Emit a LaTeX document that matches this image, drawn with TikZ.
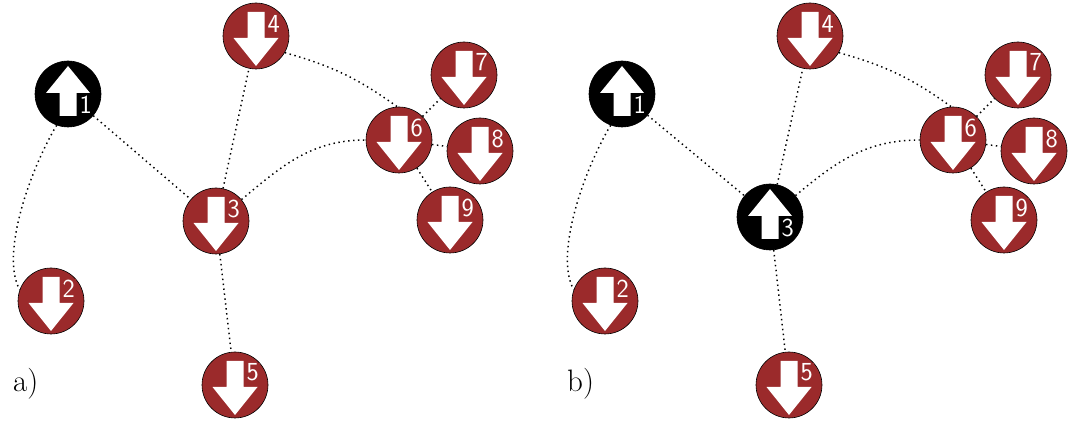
\documentclass[tikz,border=0pt]{standalone}
\usetikzlibrary{calc}
\definecolor{sred}{RGB}{155,42,43}
\tikzset{
  spin/.style={circle, draw=black, line width=0.6pt, minimum size=66pt, inner sep=0pt},
  digit/.style={text=white, font=\sffamily\fontsize{26}{26}\selectfont, inner sep=0.6pt},
  link/.style={line width=1.45pt, dash pattern=on 1.45pt off 3.5pt},
  lbl/.style={font=\fontsize{31}{31}\selectfont, inner sep=0pt, anchor=base west}
}
% down spin: name, position, digit
\newcommand\spindn[3]{%
  \node[spin, fill=sred] (#1) at (#2) {};
  \begin{scope}[shift={(#2)}]
    \fill[white] (-8.5,24) -- (8.5,24) -- (8.5,-2) -- (22.5,-2) -- (0,-30) -- (-22.5,-2) -- (-8.5,-2) -- cycle;
    \node[digit, fill=sred] (#1d) at (17.8,12.5) {#3};
  \end{scope}}
% up spin: name, position, digit
\newcommand\spinup[3]{%
  \node[spin, fill=black] (#1) at (#2) {};
  \begin{scope}[shift={(#2)}]
    \fill[white] (-8.5,-22) -- (8.5,-22) -- (8.5,1) -- (22,1) -- (0,28) -- (-22,1) -- (-8.5,1) -- cycle;
    \node[digit, fill=black] (#1d) at (17.8,-11) {#3};
  \end{scope}}
\begin{document}
\begin{tikzpicture}[x=1pt,y=1pt]
\useasboundingbox (0,0) rectangle (1079,423);
% ---------- panel a ----------
\spinup{a1}{68,329}{1}
\spindn{a2}{51,122}{2}
\spindn{a3}{216,202}{3}
\spindn{a4}{256,387}{4}
\spindn{a5}{235,38}{5}
\spindn{a6}{399,283}{6}
\spindn{a7}{464,348}{7}
\spindn{a8}{480,272}{8}
\spindn{a9}{450,203}{9}
\draw[link] (a1.250) .. controls (30,253) and (0,168) .. (a2.160);
\draw[link] (a1) -- (a3);
\draw[link] (a3) -- (a4);
\draw[link] (a3) -- (a5);
\draw[link] (a4.330) to[bend left=10] (a6.93);
\draw[link] (a3) to[out=40,in=180] (a6);
\draw[link] (a6) -- (a7);
\draw[link] (a6) -- (a8);
\draw[link] (a6) -- (a9);
\node[lbl] (la) at (13,31) {a)};
% ---------- panel b ----------
\begin{scope}[xshift=554pt]
\spinup{b1}{68,329}{1}
\spindn{b2}{51,122}{2}
\spinup{b3}{216,206}{3}
\spindn{b4}{256,387}{4}
\spindn{b5}{235,38}{5}
\spindn{b6}{399,283}{6}
\spindn{b7}{464,348}{7}
\spindn{b8}{480,272}{8}
\spindn{b9}{450,203}{9}
\draw[link] (b1.250) .. controls (30,253) and (0,168) .. (b2.160);
\draw[link] (b1) -- (b3);
\draw[link] (b3) -- (b4);
\draw[link] (b3) -- (b5);
\draw[link] (b4.330) to[bend left=10] (b6.93);
\draw[link] (b3) to[out=40,in=180] (b6);
\draw[link] (b6) -- (b7);
\draw[link] (b6) -- (b8);
\draw[link] (b6) -- (b9);
\node[lbl] (lb) at (13,31) {b)};
\end{scope}
\end{tikzpicture}
\end{document}
